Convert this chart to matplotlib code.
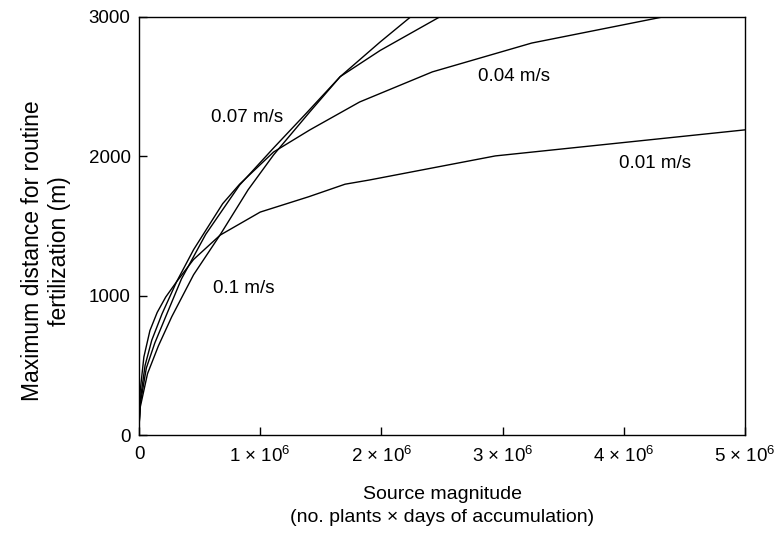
import matplotlib
matplotlib.use('Agg')
import matplotlib.pyplot as plt

plt.rcParams['font.family'] = ['Liberation Sans', 'DejaVu Sans']
plt.rcParams['mathtext.fontset'] = 'custom'
plt.rcParams['mathtext.rm'] = 'Liberation Sans'
plt.rcParams['mathtext.it'] = 'Liberation Sans'

# source magnitude in units of 1e6 plants x days, distance in m
x_001 = [0, 0.01, 0.04, 0.09, 0.15, 0.22, 0.31, 0.45, 0.67, 1.0, 1.4, 1.7, 1.9, 2.94, 5.0]
y_001 = [60, 320, 560, 750, 880, 990, 1100, 1260, 1435, 1600, 1710, 1800, 1830, 2003, 2190]

x_004 = [0, 0.01, 0.05, 0.105, 0.19, 0.31, 0.45, 0.69, 0.83, 1.11, 1.41, 1.82, 2.42, 3.24, 4.32]
y_004 = [60, 250, 500, 680, 870, 1100, 1330, 1660, 1800, 2031, 2190, 2390, 2606, 2813, 3000]

x_007 = [0, 0.01, 0.06, 0.13, 0.23, 0.35, 0.55, 0.83, 1.11, 1.37, 1.66, 1.99, 2.48]
y_007 = [60, 220, 480, 660, 870, 1120, 1440, 1794, 2060, 2300, 2572, 2760, 3000]

x_010 = [0, 0.01, 0.07, 0.16, 0.27, 0.45, 0.668, 0.9, 1.11, 1.41, 1.66, 1.99, 2.24]
y_010 = [60, 200, 440, 640, 849, 1150, 1435, 1760, 2010, 2320, 2572, 2821, 3000]

labels = ['0.01 m/s', '0.04 m/s', '0.07 m/s', '0.1 m/s']
label_pos = [(4.26, 1945), (3.09, 2570), (0.89, 2280), (0.86, 1055)]

xticks = [0, 1, 2, 3, 4, 5]
xticklabels = ['0'] + ['%d \u00d7 10$^6$' % v for v in xticks[1:]]
yticks = [0, 1000, 2000, 3000]

fig = plt.figure(figsize=(7.78, 5.36), dpi=100)
ax = fig.add_axes([0.1787, 0.1884, 0.7789, 0.7799])

for xs, ys in [(x_001, y_001), (x_004, y_004), (x_007, y_007), (x_010, y_010)]:
    ax.plot(xs, ys, color='black', lw=1.0)

for text, (tx, ty) in zip(labels, label_pos):
    ax.text(tx, ty, text, fontsize=13.5, ha='center', va='center')

ax.set_xlim(0, 5)
ax.set_ylim(0, 3000)
ax.set_xticks(xticks)
ax.set_xticklabels(xticklabels)
ax.set_yticks(yticks)
ax.tick_params(direction='in', length=6, width=1, labelsize=13.5)
ax.tick_params(axis='x', pad=8)
ax.tick_params(axis='y', pad=6)
for s in ax.spines.values():
    s.set_linewidth(1.0)

ax.set_xlabel('Source magnitude\n(no. plants \u00d7 days of accumulation)',
              fontsize=14, labelpad=14, linespacing=1.45)
ax.set_ylabel('Maximum distance for routine\nfertilization (m)',
              fontsize=16.5, linespacing=1.25)
ax.yaxis.set_label_coords(-0.112, 0.44)

fig.savefig('out.png', dpi=100)
